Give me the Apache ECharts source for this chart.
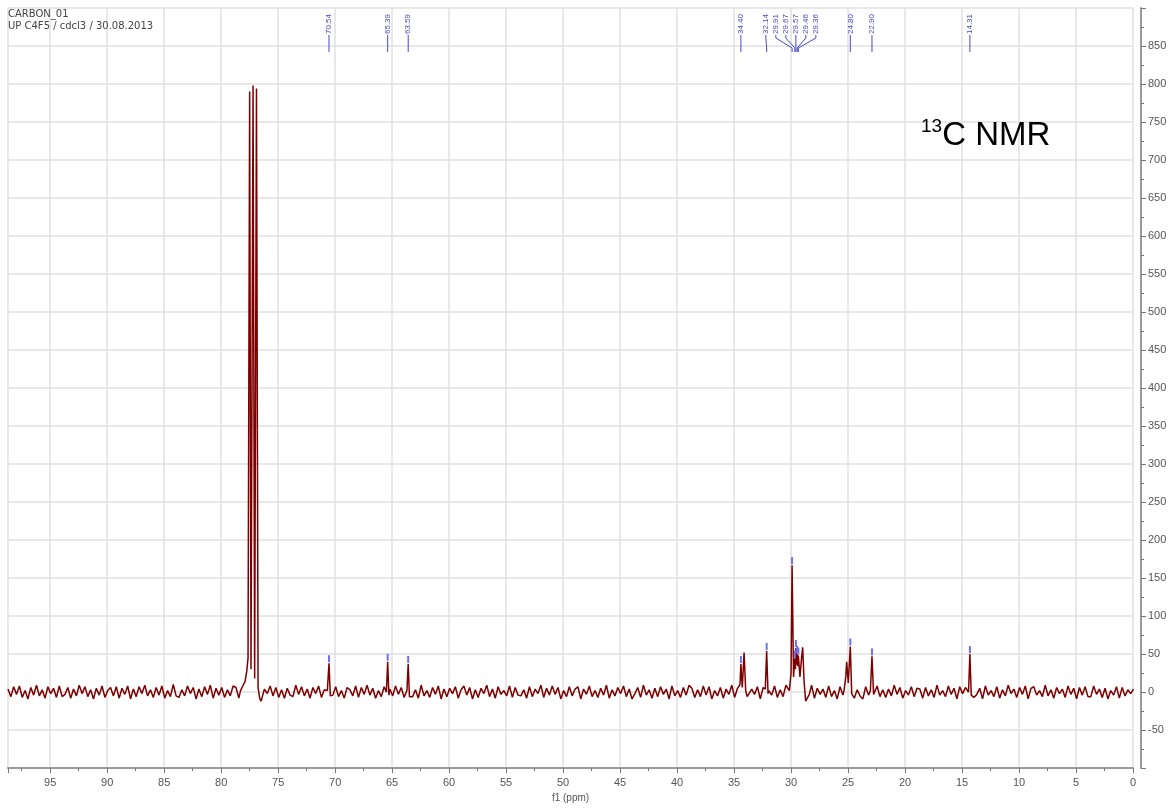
<!DOCTYPE html>
<html>
<head>
<meta charset="utf-8">
<script src="https://cdn.jsdelivr.net/npm/echarts/dist/echarts.min.js"></script>
<style>
  html, body { margin: 0; padding: 0; background: #fff; }
  #chart { width: 1173px; height: 808px; }
</style>
</head>
<body>
<div id="chart"></div>
<script>
// ---------------- DATA ----------------
const headerLines = ['CARBON_01', 'UP C4F5 / cdcl3 / 30.08.2013'];
const nucleusLabel = { sup: '13', main: 'C NMR' };

// Baseline noise: first point at baseStart ppm, one value every baseStep ppm
const baseStart = 98.7;
const baseStep = 0.25;
const baselineNoise = [
  4,-6,7,-3,8,-7,2,-9,6,-4,9,-5,3,-8,7,-2,5,-7,8,-6,
  -3,6,-8,4,-5,9,-2,7,-6,3,-9,5,-4,8,-7,2,6,-5,7,-8,
  5,-3,8,-9,4,-6,7,-2,9,-5,3,-7,6,-4,8,-8,2,-6,10,-5,
  -7,3,-5,8,-2,6,-9,4,-6,7,-3,9,-8,5,-4,6,-7,3,-5,8,
  6,-8,2,-4,9,-6,5,-3,7,-9,4,-2,8,-5,6,-7,3,-8,5,-4,
  -6,9,-3,7,-5,4,-8,6,-2,8,-7,3,-9,5,-4,7,-6,2,-8,6,
  3,-5,8,-7,6,-3,9,-4,5,-8,2,-6,7,-9,4,-5,8,-3,6,-7,
  -4,7,-6,3,-8,9,-5,2,-7,6,-3,8,-9,4,-6,5,-2,7,-8,3,
  8,-4,6,-9,3,-7,5,-2,9,-6,4,-8,7,-3,2,-5,8,-7,6,-4,
  -5,3,-8,7,-6,4,-2,9,-7,5,-4,8,-3,6,-9,2,-6,7,-5,4,
  7,-9,4,-3,8,-6,2,-7,5,-4,9,-8,3,-5,6,-2,8,-6,4,-9,
  -2,6,-7,9,-4,3,-8,5,-6,7,-3,4,-9,8,-5,2,-7,6,-4,9,
  5,-7,3,-6,8,-4,7,-9,2,-5,6,-8,4,-3,9,-7,5,-2,8,-6,
  -8,4,-3,7,-9,6,-5,2,-4,8,-7,3,-6,9,-2,5,-8,7,-3,4,
  6,-2,9,-8,5,-3,4,-7,8,-6,2,-9,7,-4,5,-3,6,-8,3,-5,
  -9,7,-4,5,-2,8,-6,3,-7,4,-5,9,-3,6,-8,2,-4,7,-6,5,
  4,-8,6,-5,3,-7,9,-4,2,-6,8,-3,5,-9,7,-2,6,-5,4,-7,
  -3,5,-9,8,-4,2,-6,7,-8,3,-5,9,-2,4,-7,6,-3,8,-9,5,
  7,-4,2,-6,9,-5,3,-8,6,-2,4,-7,8,-3,5,-9,6,-4,7,-6,
  -6,8,-3,4,-7,5,-9,2,-4,7,-8,6,-5,3,-2,4
];

// Peak shapes [ppm, intensity], one list per resonance group
const solventPeaks = [[78.3, 2], [78.1, 8], [77.9, 14], [77.75, 28], [77.64, 45], [77.5, 790], [77.38, 30], [77.2, 798], [77.06, 18], [76.9, 794], [76.76, 6], [76.62, -8], [76.5, -12], [76.35, -4]];
const peaks70 = [[70.68, 2], [70.54, 38], [70.42, -5]];
const peaks65 = [[65.5, 0], [65.39, 40], [65.28, -4]];
const peaks63 = [[63.7, 2], [63.59, 37], [63.48, -6]];
const peaks34 = [[34.6, 3], [34.48, 10], [34.4, 37], [34.28, 6], [34.12, 52], [33.98, 2], [33.85, -6]];
const peaks32 = [[32.26, 4], [32.14, 54], [32.02, -2]];
const peaks29 = [[30.15, 2], [30.0, 25], [29.91, 167], [29.78, 20], [29.67, 44], [29.62, 30], [29.57, 58], [29.52, 36], [29.46, 50], [29.41, 34], [29.36, 48], [29.22, 20], [29.08, 45], [28.98, 59], [28.86, 15], [28.72, -12], [28.55, -10], [28.4, -3]];
const peaks25 = [[25.35, 2], [25.2, 20], [25.12, 40], [24.98, 12], [24.8, 60], [24.68, -2]];
const peaks23 = [[23.04, 2], [22.9, 47], [22.76, -3]];
const peaks14 = [[14.43, 0], [14.31, 50], [14.19, -4]];

// Picked peaks (labels at the top)
const pickedPeaks = [70.54, 65.39, 63.59, 34.40, 32.14, 29.91, 29.67, 29.57, 29.46, 29.36, 24.80, 22.90, 14.31];

// Axis ticks
const xTickInterval = 5;
const yTickInterval = 50;
const xRange = [0, 98.7];
const yRange = [-100, 900];

// ---------------- BUILD ----------------
const peakGroups = [solventPeaks, peaks70, peaks65, peaks63, peaks34, peaks32, peaks29, peaks25, peaks23, peaks14];
const groupRanges = peakGroups.map(g => {
  const ps = g.map(p => p[0]);
  return [Math.min(...ps) - 0.05, Math.max(...ps) + 0.05];
});
const spectrum = [];
baselineNoise.forEach((v, i) => {
  const ppm = +(baseStart - i * baseStep).toFixed(3);
  const inside = groupRanges.some(r => ppm >= r[0] && ppm <= r[1]);
  if (!inside) spectrum.push([ppm, v]);
});
peakGroups.forEach(g => g.forEach(p => spectrum.push([p[0], p[1]])));
spectrum.sort((a, b) => b[0] - a[0]);

function apexOf(ppm) {
  for (const g of peakGroups) for (const p of g) if (Math.abs(p[0] - ppm) < 1e-6) return p[1];
  return 0;
}

function layoutLabels(api) {
  const gap = 10;
  const xs = pickedPeaks.map(p => api.coord([p, 0])[0]);
  const order = xs.map((x, i) => i).sort((a, b) => xs[a] - xs[b]);
  let groups = order.map(i => ({ members: [i], center: xs[i] }));
  let changed = true;
  while (changed) {
    changed = false;
    for (let k = 0; k < groups.length - 1; k++) {
      const a = groups[k], b = groups[k + 1];
      const aEnd = a.center + (a.members.length - 1) * gap / 2;
      const bStart = b.center - (b.members.length - 1) * gap / 2;
      if (bStart - aEnd < gap) {
        const members = a.members.concat(b.members);
        const center = members.reduce((s, i) => s + xs[i], 0) / members.length;
        groups.splice(k, 2, { members, center });
        changed = true;
        break;
      }
    }
  }
  const pos = [];
  groups.forEach(g => g.members.forEach((i, j) => {
    pos[i] = g.center + (j - (g.members.length - 1) / 2) * gap;
  }));
  return { pos, xs };
}

const labelColor = '#4848c8';

const chart = echarts.init(document.getElementById('chart'), null, { renderer: 'canvas' });
chart.setOption({
  animation: false,
  backgroundColor: '#ffffff',
  title: [
    {
      text: headerLines.join('\n'),
      left: 8, top: 8, padding: 0,
      textStyle: { fontSize: 10, lineHeight: 12, color: '#444', fontWeight: 'normal', fontFamily: 'DejaVu Sans' }
    },
    {
      text: '{sup|' + nucleusLabel.sup + '}{main|' + nucleusLabel.main + '}',
      left: 921, top: 117, padding: 0,
      textStyle: {
        fontWeight: 'normal',
        rich: {
          sup: { fontSize: 19, fontWeight: 'normal', fontFamily: 'Liberation Sans', color: '#000', verticalAlign: 'top', lineHeight: 37 },
          main: { fontSize: 33, fontWeight: 'normal', fontFamily: 'Liberation Sans', color: '#000', lineHeight: 37 }
        }
      }
    }
  ],
  grid: { left: 8, right: 40, top: 8, bottom: 35.5, containLabel: false },
  xAxis: {
    type: 'value', inverse: true,
    min: xRange[0], max: xRange[1], interval: xTickInterval,
    axisLine: { show: true, onZero: false, lineStyle: { color: '#9a9a9a', width: 2 } },
    axisTick: { show: true, length: 5, lineStyle: { color: '#777' } },
    minorTick: { show: true, splitNumber: 2, length: 3, lineStyle: { color: '#777' } },
    axisLabel: {
      color: '#555', fontSize: 11, margin: 9, fontFamily: 'Liberation Sans',
      formatter: v => (Math.abs(v % xTickInterval) < 1e-6 ? String(v) : '')
    },
    splitLine: { show: true, lineStyle: { color: '#e0e0e0', width: 1.5 } },
    name: 'f1 (ppm)', nameLocation: 'middle', nameGap: 22,
    nameTextStyle: { color: '#555', fontSize: 10, fontFamily: 'Liberation Sans' }
  },
  yAxis: {
    type: 'value', position: 'right', offset: 8,
    min: yRange[0], max: yRange[1], interval: yTickInterval,
    axisLine: { show: true, onZero: false, lineStyle: { color: '#9a9a9a', width: 2 } },
    axisTick: { show: true, length: 5, lineStyle: { color: '#777' } },
    minorTick: { show: true, splitNumber: 2, length: 3, lineStyle: { color: '#777' } },
    axisLabel: { color: '#555', fontSize: 11, margin: 7, showMinLabel: false, showMaxLabel: false, fontFamily: 'Liberation Sans' },
    splitLine: { show: true, lineStyle: { color: '#e0e0e0', width: 1.5 } }
  },
  series: [
    {
      type: 'line', data: spectrum, showSymbol: false, silent: true,
      lineStyle: { color: '#7d0000', width: 1.5 }, z: 2
    },
    {
      type: 'custom', data: pickedPeaks.map(p => [p, apexOf(p)]), silent: true, z: 3,
      renderItem: function (params, api) {
        const p = api.coord([api.value(0), api.value(1)]);
        return { type: 'line', shape: { x1: p[0], y1: p[1] - 1, x2: p[0], y2: p[1] - 8 },
                 style: { stroke: '#7070f0', lineWidth: 2 } };
      }
    },
    {
      type: 'custom', data: pickedPeaks.map(p => [p, 0]), silent: true, z: 4,
      renderItem: function (params, api) {
        const lay = layoutLabels(api);
        const i = params.dataIndex;
        const lx = lay.pos[i];
        const px = lay.xs[i];
        const top = api.coord([0, yRange[1]])[1];
        return {
          type: 'group',
          children: [
            { type: 'text', x: lx, y: top + 26, rotation: Math.PI / 2,
              style: { text: pickedPeaks[i].toFixed(2), fill: labelColor, fontSize: 8, fontFamily: 'Liberation Sans',
                       align: 'left', verticalAlign: 'middle' } },
            { type: 'polyline',
              shape: { points: [[lx, top + 27], [lx, top + 30], [px, top + 40], [px, top + 44]] },
              style: { stroke: labelColor, lineWidth: 1, fill: null } }
          ]
        };
      }
    }
  ]
});
</script>
</body>
</html>
